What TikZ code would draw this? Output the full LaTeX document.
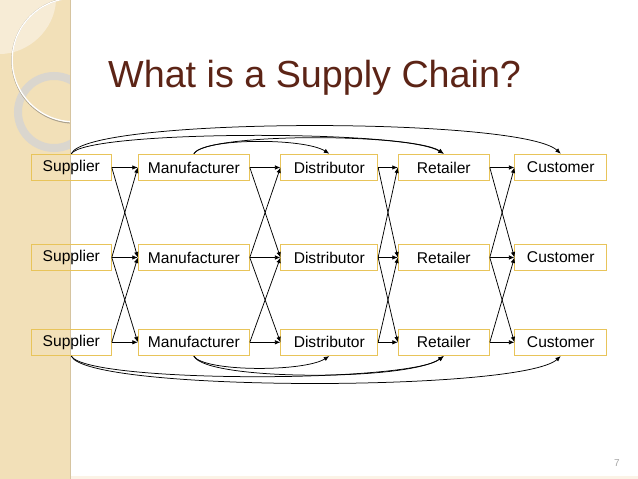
\documentclass[tikz,border=0pt]{standalone}
\usepackage{fontspec}
\setmainfont{Liberation Sans}
\usetikzlibrary{arrows.meta}
\definecolor{titlebrown}{RGB}{92,36,22}
\definecolor{boxgold}{RGB}{232,196,90}
\definecolor{bandbeige}{RGB}{242,224,184}
\definecolor{bandlight}{RGB}{247,236,214}
\definecolor{bandedge}{RGB}{214,196,160}
\definecolor{ringgray}{RGB}{218,214,206}
\definecolor{arcshadow}{RGB}{170,160,140}
\definecolor{footcream}{RGB}{251,243,230}
\begin{document}
\begin{tikzpicture}[x=1pt,y=-1pt,
  box/.style={draw=boxgold,line width=1pt,minimum height=26.5pt,inner sep=0pt,
    font=\fontsize{15.6}{18}\selectfont,text=black},
  flow/.style={draw=black,line width=0.75pt,-{Latex[length=5.5pt,width=4.5pt]}},
  ]
\useasboundingbox (0,0) rectangle (638,479);
% left decorative band
\fill[bandbeige] (0,0) rectangle (70,479);
\fill[footcream] (70,476) rectangle (638,479);
\begin{scope}
  \clip (0,0) rectangle (70,479);
  \fill[bandlight] (0,0) -- (0,54) .. controls (28,54) and (55,30) .. (56,0) -- cycle;
  \draw[ringgray,line width=8pt] (54,112) circle[radius=36];
  \draw[arcshadow,line width=1.2pt] (74.5,60.5) circle[radius=62.6];
  \draw[white,line width=1.3pt] (74,60) circle[radius=61.8];
\end{scope}
\draw[bandedge,line width=0.8pt] (70,0) -- (70,479);
% title
\node[anchor=base west,inner sep=0pt,text=titlebrown,
  font=\fontsize{37.7}{44}\selectfont] (title) at (108,87) {What is a Supply Chain?};
% boxes
\foreach \r/\y in {1/167.5,2/257.5,3/342.3}{
  \node[box,minimum width=80pt]  (s\r) at (71.3,\y)  {Supplier};
  \node[box,minimum width=111pt] (m\r) at (193.8,\y) {Manufacturer};
  \node[box,minimum width=96.7pt](d\r) at (329.3,\y) {Distributor};
  \node[box,minimum width=91pt]  (r\r) at (443.8,\y) {Retailer};
  \node[box,minimum width=91.7pt](c\r) at (560.8,\y) {Customer};
}
% straight and crossing arrows
\foreach \a/\b in {s/m,m/d,d/r,r/c}{
  \draw[flow] (\a1.east) -- (\b1.west);
  \draw[flow] (\a2.east) -- (\b2.west);
  \draw[flow] (\a3.east) -- (\b3.west);
  \draw[flow] (\a1.east) -- (\b2.west);
  \draw[flow] (\a2.east) -- (\b1.west);
  \draw[flow] (\a2.east) -- (\b3.west);
  \draw[flow] (\a3.east) -- (\b2.west);
}
% top curved arrows
\draw[flow] (s1.north) .. controls +(15,-37) and +(-40,-37) .. (c1.north);
\draw[flow] (s1.north) .. controls +(15,-24) and +(-35,-24) .. (r1.north);
\draw[flow] (m1.north) .. controls +(12,-21) and +(-35,-21) .. (r1.north);
\draw[flow] (m1.north) .. controls +(10,-16) and +(-25,-16) .. (d1.north);
% bottom curved arrows
\draw[flow] (s3.south) .. controls +(15,36) and +(-40,36) .. (c3.south);
\draw[flow] (s3.south) .. controls +(15,27) and +(-35,27) .. (r3.south);
\draw[flow] (m3.south) .. controls +(12,25) and +(-35,25) .. (r3.south);
\draw[flow] (m3.south) .. controls +(10,16) and +(-25,16) .. (d3.south);
% page number
\node[text=gray!70,font=\fontsize{10}{12}\selectfont] (pg) at (617,463) {7};
\end{tikzpicture}
\end{document}
